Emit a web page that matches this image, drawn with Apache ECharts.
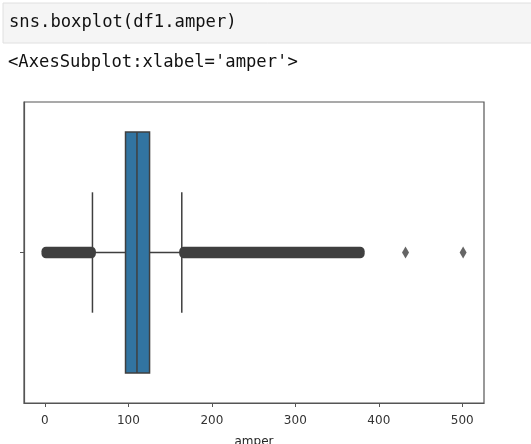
<!DOCTYPE html>
<html>
<head>
<meta charset="utf-8">
<script src="https://cdn.jsdelivr.net/npm/echarts@6/dist/echarts.min.js"></script>
<style>
html,body{margin:0;padding:0;background:#fff;}
#c{width:531px;height:444px;}
</style>
</head>
<body>
<div id="c"></div>
<script>
// ---- data ----
const codeLine = "sns.boxplot(df1.amper)";
const outLine = "<AxesSubplot:xlabel='amper'>";
const xName = "amper";
const tickLabels = [0, 100, 200, 300, 400, 500];
// box statistics: [lower whisker, Q1, median, Q3, upper whisker]
const boxStats = [57, 96.6, 110.3, 125.4, 164];
// ranges densely covered by outlier markers
const outlierBands = [[0, 57], [165, 379]];
// isolated outliers
const outliers = [432, 501];

const chart = echarts.init(document.getElementById('c'), null, {renderer: 'canvas'});
const EDGE = '#3f3f3f';
const BLUE = '#3274a1';

const option = {
  backgroundColor: '#ffffff',
  animation: false,
  graphic: [
    {type: 'rect', shape: {x: 3, y: 3, width: 540, height: 40},
     style: {fill: '#f5f5f5', stroke: '#e0e0e0', lineWidth: 1}, z: 0},
    {type: 'text', x: 9, y: 23,
     style: {text: codeLine, font: '17.2px "DejaVu Sans Mono"', fill: '#111', verticalAlign: 'middle'}},
    {type: 'text', x: 8, y: 63,
     style: {text: outLine, font: '17.2px "DejaVu Sans Mono"', fill: '#111', verticalAlign: 'middle'}}
  ],
  grid: {left: 24, top: 102, right: 47, bottom: 41, show: true, outerBoundsMode: 'none', containLabel: false,
         borderColor: '#555', borderWidth: 1.2, backgroundColor: 'transparent'},
  xAxis: {
    type: 'value', min: -25, max: 526,
    name: xName, nameLocation: 'middle', nameGap: 33,
    nameTextStyle: {fontFamily: 'DejaVu Sans', fontSize: 12, color: '#262626'},
    axisLine: {show: true, onZero: false, lineStyle: {color: '#555', width: 1.2}},
    axisTick: {show: true, length: 4, customValues: tickLabels, lineStyle: {color: '#555'}},
    axisLabel: {customValues: tickLabels, margin: 12, fontFamily: 'DejaVu Sans', fontSize: 12, color: '#333'},
    splitLine: {show: false}
  },
  yAxis: {
    type: 'value', min: -0.5, max: 0.5,
    axisLine: {show: true, onZero: false, lineStyle: {color: '#555', width: 1.2}},
    axisTick: {show: true, length: 4, customValues: [0], lineStyle: {color: '#555'}},
    axisLabel: {show: false},
    splitLine: {show: false}
  },
  series: [
    {
      type: 'custom',
      data: [boxStats],
      encode: {x: [0, 1, 2, 3, 4]},
      z: 2,
      renderItem: function (params, api) {
        const wl = api.value(0), q1 = api.value(1), md = api.value(2), q3 = api.value(3), wh = api.value(4);
        const c = (v, y) => api.coord([v, y]);
        const ln = {stroke: EDGE, lineWidth: 1.5};
        const a = c(q1, 0.4), b = c(q3, -0.4);
        return {type: 'group', children: [
          {type: 'line', shape: {x1: c(wl, 0)[0], y1: c(wl, 0)[1], x2: c(q1, 0)[0], y2: c(q1, 0)[1]}, style: ln},
          {type: 'line', shape: {x1: c(q3, 0)[0], y1: c(q3, 0)[1], x2: c(wh, 0)[0], y2: c(wh, 0)[1]}, style: ln},
          {type: 'line', shape: {x1: c(wl, 0.2)[0], y1: c(wl, 0.2)[1], x2: c(wl, -0.2)[0], y2: c(wl, -0.2)[1]}, style: ln},
          {type: 'line', shape: {x1: c(wh, 0.2)[0], y1: c(wh, 0.2)[1], x2: c(wh, -0.2)[0], y2: c(wh, -0.2)[1]}, style: ln},
          {type: 'rect', shape: {x: a[0], y: a[1], width: b[0] - a[0], height: b[1] - a[1]},
           style: {fill: BLUE, stroke: EDGE, lineWidth: 1.5}},
          {type: 'line', shape: {x1: c(md, 0.4)[0], y1: c(md, 0.4)[1], x2: c(md, -0.4)[0], y2: c(md, -0.4)[1]}, style: ln}
        ]};
      }
    },
    {
      type: 'custom',
      data: outlierBands,
      encode: {x: [0, 1]},
      z: 3,
      renderItem: function (params, api) {
        const p0 = api.coord([api.value(0), 0]);
        const p1 = api.coord([api.value(1), 0]);
        return {type: 'rect',
          shape: {x: p0[0] - 3.4, y: p0[1] - 5.8, width: p1[0] - p0[0] + 6.8, height: 11.6, r: 4.5},
          style: {fill: EDGE}};
      }
    },
    {
      type: 'scatter',
      data: outliers.map(v => [v, 0]),
      symbol: 'diamond',
      symbolSize: [7, 12],
      itemStyle: {color: EDGE},
      z: 3
    }
  ]
};
chart.setOption(option);
</script>
</body>
</html>
